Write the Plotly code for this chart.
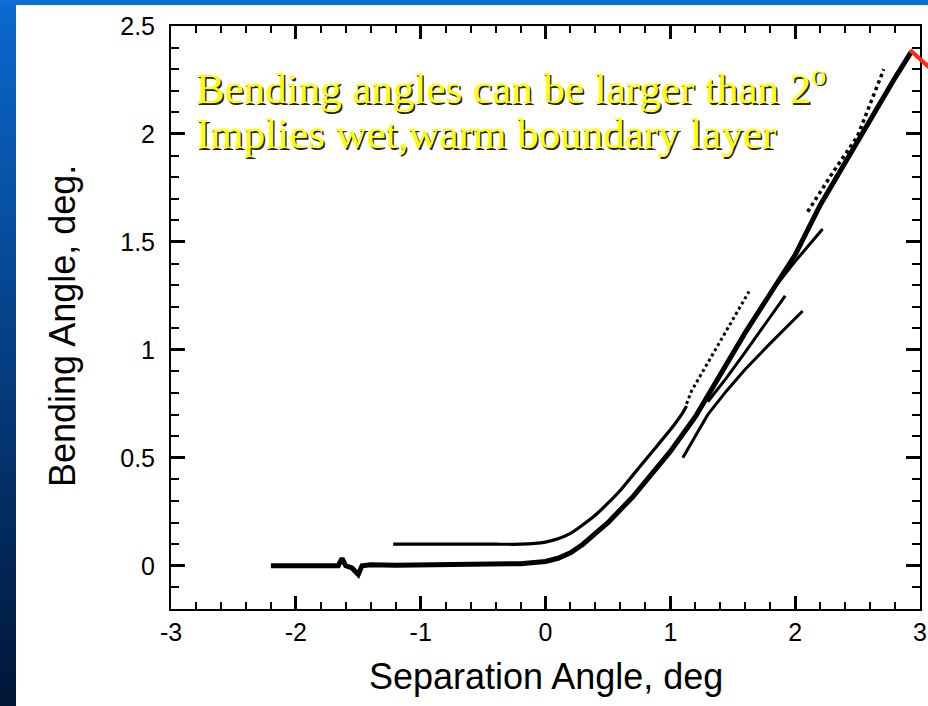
import plotly.graph_objects as go

# ---------------- data ----------------
# main thick curve
main_x = [-2.2, -2.0, -1.8, -1.66, -1.63, -1.6, -1.55, -1.5, -1.47, -1.4, -1.2, -1.0, -0.8, -0.6,
          -0.4, -0.2, 0.0, 0.1, 0.2, 0.3, 0.4, 0.5, 0.6, 0.7, 0.8, 0.9, 1.0, 1.2, 1.4, 1.6,
          1.8, 2.0, 2.2, 2.4, 2.6, 2.8, 2.93]
main_y = [0.0, 0.0, 0.002, 0.0, 0.035, 0.0, -0.01, -0.04, 0.0, 0.005, 0.003, 0.004, 0.005, 0.006,
          0.007, 0.01, 0.02, 0.035, 0.06, 0.10, 0.15, 0.20, 0.26, 0.32, 0.39, 0.46, 0.53, 0.69, 0.89, 1.08,
          1.26, 1.44, 1.67, 1.87, 2.07, 2.26, 2.38]
# upper thin curve
upper_x = [-1.22, -1.0, -0.8, -0.6, -0.4, -0.2, 0.0, 0.1, 0.2, 0.3, 0.4, 0.5, 0.6, 0.7, 0.8,
           0.9, 1.0, 1.1, 1.13]
upper_y = [0.10, 0.10, 0.10, 0.10, 0.10, 0.10, 0.11, 0.125, 0.15, 0.19, 0.235, 0.29, 0.35, 0.42, 0.49,
           0.56, 0.63, 0.71, 0.74]
# dotted continuation of the upper curve
dot1_x = [1.13, 1.17, 1.3, 1.45, 1.63]
dot1_y = [0.75, 0.81, 0.94, 1.09, 1.27]
# thin branch ending near (1.92, 1.25)
branch_c_x = [1.3, 1.45, 1.6, 1.75, 1.92]
branch_c_y = [0.76, 0.87, 0.99, 1.11, 1.25]
# thin line ending near (2.06, 1.18)
branch_d_x = [1.10, 1.2, 1.3, 1.45, 1.6, 1.8, 2.06]
branch_d_y = [0.50, 0.60, 0.70, 0.81, 0.91, 1.03, 1.18]
# short branch ending near (2.22, 1.56)
branch_e_x = [1.85, 2.0, 2.22]
branch_e_y = [1.30, 1.41, 1.56]
# dotted upper-right curve
dot2_x = [2.1, 2.3, 2.5, 2.6, 2.71]
dot2_y = [1.64, 1.82, 1.99, 2.14, 2.30]

x_ticks = [-3, -2, -1, 0, 1, 2, 3]
x_tick_text = ["-3", "-2", "-1", "0", "1", "2", "3"]
y_ticks = [0, 0.5, 1, 1.5, 2, 2.5]
y_tick_text = ["0", "0.5", "1", "1.5", "2", "2.5"]

note_line1 = "Bending angles can be larger than 2<sup>o</sup>"
note_line2 = "Implies wet,warm boundary layer"
x_title = "Separation Angle, deg"
y_title = "Bending Angle, deg."

# ---------------- figure ----------------
W, H = 928, 706
L, R, T, B = 171, 8, 26, 97
PW, PH = W - L - R, H - T - B


def px_x(p):
    return (p - L) / PW


def px_y(p):
    return (H - B - p) / PH


fig = go.Figure()

fig.add_trace(go.Scatter(x=main_x, y=main_y, mode="lines",
                         line=dict(color="black", width=5)))
fig.add_trace(go.Scatter(x=upper_x, y=upper_y, mode="lines",
                         line=dict(color="black", width=3.2, shape="spline", smoothing=0.4)))
fig.add_trace(go.Scatter(x=dot1_x, y=dot1_y, mode="lines",
                         line=dict(color="black", width=3, dash="dot")))
fig.add_trace(go.Scatter(x=branch_c_x, y=branch_c_y, mode="lines",
                         line=dict(color="black", width=3)))
fig.add_trace(go.Scatter(x=branch_d_x, y=branch_d_y, mode="lines",
                         line=dict(color="black", width=3)))
fig.add_trace(go.Scatter(x=branch_e_x, y=branch_e_y, mode="lines",
                         line=dict(color="black", width=3)))
fig.add_trace(go.Scatter(x=dot2_x, y=dot2_y, mode="lines",
                         line=dict(color="black", width=3.5, dash="dot")))

shapes = []
# left vertical gradient bar
n = 60
top_c = (10, 104, 206)
bot_c = (0, 22, 56)
for i in range(n):
    t = i / (n - 1)
    c = tuple(int(round(top_c[k] + (bot_c[k] - top_c[k]) * t)) for k in range(3))
    y0 = H * i / n
    y1 = H * (i + 1) / n + 1
    shapes.append(dict(type="rect", xref="paper", yref="paper",
                       x0=px_x(0), x1=px_x(16), y0=px_y(y1), y1=px_y(y0),
                       fillcolor="rgb(%d,%d,%d)" % c, line=dict(width=0), layer="above"))
# top bar
shapes.append(dict(type="rect", xref="paper", yref="paper",
                   x0=px_x(0), x1=px_x(W), y0=px_y(5), y1=px_y(0),
                   fillcolor="#0a6fd6", line=dict(width=0), layer="above"))
# red pointer line at the end of the curve
shapes.append(dict(type="line", xref="paper", yref="paper",
                   x0=px_x(910), y0=px_y(50), x1=px_x(930), y1=px_y(68),
                   line=dict(color="#ff2a10", width=4), layer="above"))

ann_font = dict(family="Liberation Serif", size=43, color="#ffff00",
                shadow="1.5px 1.5px 0px #222")
annotations = [
    dict(text=note_line1, xref="paper", yref="paper", x=px_x(194), y=px_y(85),
         xanchor="left", yanchor="middle", showarrow=False, font=ann_font),
    dict(text=note_line2, xref="paper", yref="paper", x=px_x(194), y=px_y(133),
         xanchor="left", yanchor="middle", showarrow=False, font=ann_font),
    dict(text=x_title, xref="paper", yref="paper", x=0.5, y=px_y(676),
         xanchor="center", yanchor="middle", showarrow=False,
         font=dict(family="Liberation Sans", size=36, color="black")),
    dict(text=y_title, xref="paper", yref="paper", x=px_x(62), y=px_y(326),
         xanchor="center", yanchor="middle", showarrow=False, textangle=-90,
         font=dict(family="Liberation Sans", size=36, color="black")),
]

axis_common = dict(showgrid=False, zeroline=False, showline=True, linecolor="black",
                   linewidth=2, mirror="ticks", ticks="inside", tickcolor="black",
                   tickwidth=2.5, tickmode="array",
                   tickfont=dict(family="Liberation Sans", size=25, color="black"))

fig.update_layout(
    width=W, height=H,
    margin=dict(l=L, r=R, t=T, b=B, autoexpand=False),
    paper_bgcolor="white", plot_bgcolor="white",
    showlegend=False,
    shapes=shapes,
    annotations=annotations,
    xaxis=dict(range=[-3, 3], tickvals=x_ticks, ticktext=x_tick_text, ticklen=13,
               minor=dict(dtick=0.2, ticks="inside", ticklen=7, tickcolor="black", tickwidth=2),
               **axis_common),
    yaxis=dict(range=[-0.2, 2.5], tickvals=y_ticks, ticktext=y_tick_text, ticklen=14,
               ticklabelstandoff=9,
               minor=dict(dtick=0.1, ticks="inside", ticklen=8, tickcolor="black", tickwidth=2),
               **axis_common),
)

fig.write_html("out.html")
